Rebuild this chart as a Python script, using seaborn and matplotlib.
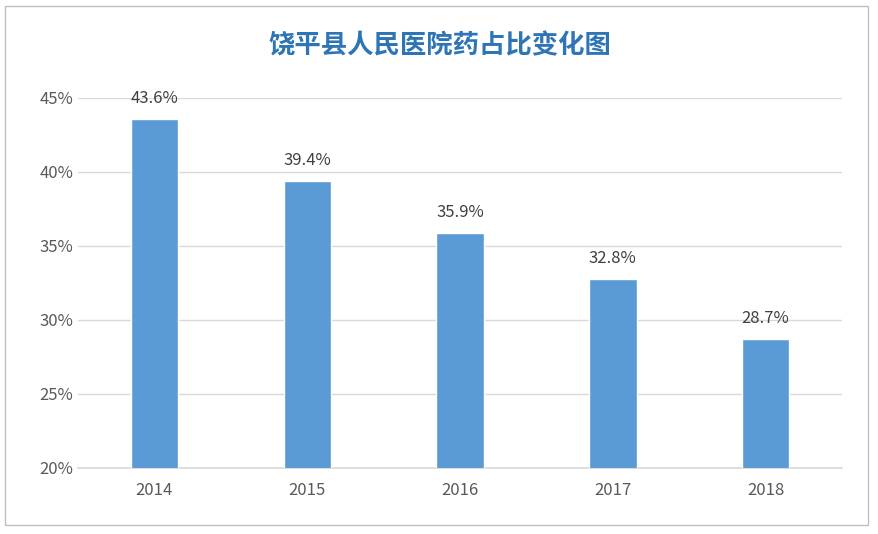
import matplotlib
matplotlib.use("Agg")
import matplotlib.pyplot as plt
import seaborn as sns
import pandas as pd
from matplotlib.patches import Rectangle

years = ["2014", "2015", "2016", "2017", "2018"]
values = [43.6, 39.4, 35.9, 32.8, 28.7]
yticks = [20, 25, 30, 35, 40, 45]
title = "饶平县人民医院药占比变化图"

sns.set_theme(style="white")
plt.rcParams['font.family'] = ['Noto Sans CJK SC', 'DejaVu Sans']

fig = plt.figure(figsize=(8.79, 5.34), dpi=100)
ax = fig.add_axes([0.0887, 0.1236, 0.8693, 0.693])
df = pd.DataFrame({"year": years, "v": values})
sns.barplot(data=df, x="year", y="v", color="#5B9BD5", saturation=1, width=0.31, ax=ax, zorder=3)
ax.set_ylim(20, 45)
ax.set_xlim(-0.5, 4.5)
ax.set_yticks(yticks)
ax.set_yticklabels([f"{t}%" for t in yticks])
ax.yaxis.grid(True, color="#D9D9D9", linewidth=1, zorder=0)
for s in ["top", "right", "left"]:
    ax.spines[s].set_visible(False)
ax.spines["bottom"].set_color("#D9D9D9")
ax.set_xlabel("")
ax.set_ylabel("")
ax.tick_params(axis="both", colors="#595959", labelsize=12, length=0)
ax.tick_params(axis="x", pad=10)
for i, v in enumerate(values):
    ax.text(i, v + 0.8, f"{v}%", ha="center", va="bottom", fontsize=12, color="#404040")
fig.text(0.5, 0.915, title, ha="center", va="center", fontsize=19, fontweight="bold", color="#2E75B6")
fig.patches.append(Rectangle((0.006, 0.017), 0.982, 0.971, transform=fig.transFigure,
                             fill=False, edgecolor="#BFBFBF", linewidth=1))
fig.savefig("out.png", dpi=100)
